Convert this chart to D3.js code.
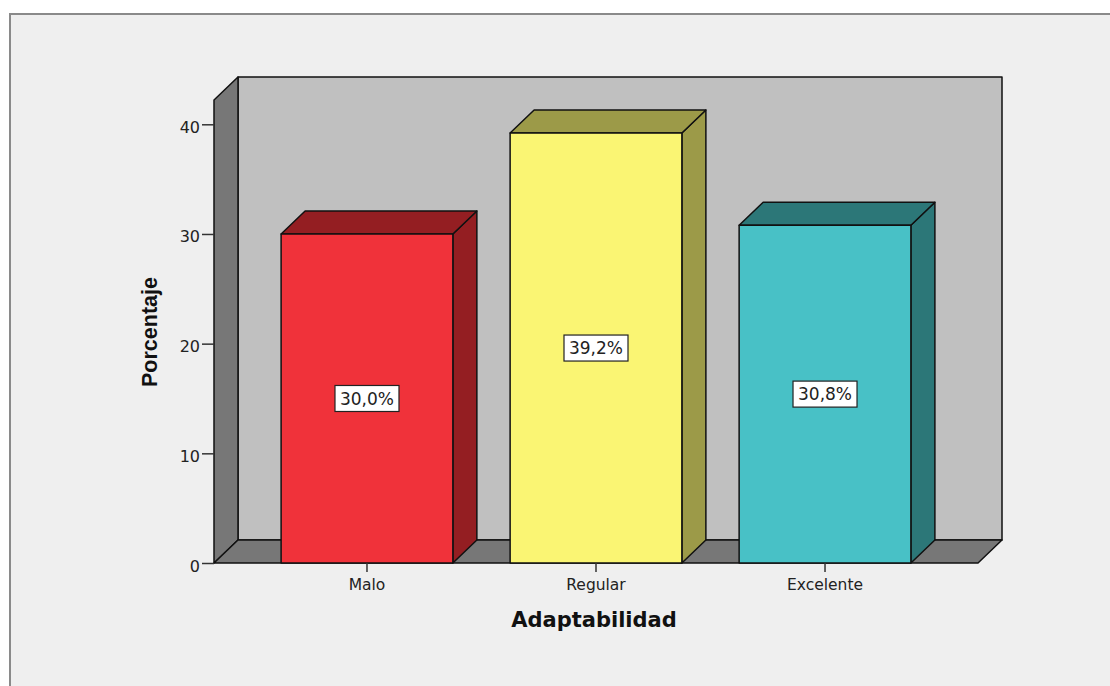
<!DOCTYPE html>
<html>
<head>
  <meta charset="utf-8">
  <title>Adaptabilidad</title>
  <script src="https://d3js.org/d3.v7.min.js"></script>
  <style>
    body { margin: 0; background: #fff; }
    .tick text { font-family: "DejaVu Sans", sans-serif; font-size: 16px; fill: #222; }
    .tick line { stroke: #333; stroke-width: 1.5; }
    .edge { stroke: #111; stroke-width: 1.5; stroke-linejoin: round; }
  </style>
</head>
<body>
  <script>
    // data
    var categories = ["Malo", "Regular", "Excelente"];
    var percents = [30.0, 39.2, 30.8];
    var labels = ["30,0%", "39,2%", "30,8%"];
    var frontColors = ["#f0323a", "#faf573", "#48c1c6"];
    var sideColors = ["#941e22", "#9c9a48", "#2c7778"];
    var yTicks = [0, 10, 20, 30, 40];

    var W = 1110, H = 686;
    // front plane of the 3d box and the depth offset
    var left = 214, right = 978, bottom = 563, wallTop = 100;
    var dx = 24, dy = 23;

    var svg = d3.select("body").append("svg")
        .attr("width", W)
        .attr("height", H);

    // outer frame
    svg.append("rect")
        .attr("x", 10).attr("y", 14)
        .attr("width", W + 20).attr("height", H + 20)
        .attr("fill", "#efefef")
        .attr("stroke", "#8a8a8a")
        .attr("stroke-width", 2);

    var y = d3.scaleLinear()
        .domain([0, 40])
        .range([bottom, 124.3]);

    var x = d3.scaleBand()
        .domain(categories)
        .range([left, right])
        .paddingInner(0.25)
        .paddingOuter(0.293);

    function poly(pts) {
      return "M" + pts.map(p => p.join(",")).join("L") + "Z";
    }

    // back wall
    svg.append("path").attr("class", "edge")
        .attr("d", poly([[left + dx, wallTop - dy], [right + dx, wallTop - dy], [right + dx, bottom - dy], [left + dx, bottom - dy]]))
        .attr("fill", "#c0c0c0");
    // left wall
    svg.append("path").attr("class", "edge")
        .attr("d", poly([[left, bottom], [left, wallTop], [left + dx, wallTop - dy], [left + dx, bottom - dy]]))
        .attr("fill", "#777");
    // floor
    svg.append("path").attr("class", "edge")
        .attr("d", poly([[left, bottom], [right, bottom], [right + dx, bottom - dy], [left + dx, bottom - dy]]))
        .attr("fill", "#777");

    // bars
    var data = categories.map((c, i) => ({cat: c, value: percents[i], label: labels[i], front: frontColors[i], side: sideColors[i]}));

    var bars = svg.append("g").selectAll("g")
        .data(data)
        .enter().append("g");

    bars.append("path").attr("class", "edge")
        .attr("fill", d => d.side)
        .attr("d", d => {
          var x0 = x(d.cat), x1 = x0 + x.bandwidth(), t = y(d.value);
          return poly([[x1, t], [x1 + dx, t - dy], [x1 + dx, bottom - dy], [x1, bottom]]);
        });
    bars.append("path").attr("class", "edge")
        .attr("fill", d => d.side)
        .attr("d", d => {
          var x0 = x(d.cat), x1 = x0 + x.bandwidth(), t = y(d.value);
          return poly([[x0, t], [x0 + dx, t - dy], [x1 + dx, t - dy], [x1, t]]);
        });
    bars.append("rect").attr("class", "edge")
        .attr("x", d => x(d.cat))
        .attr("y", d => y(d.value))
        .attr("width", x.bandwidth())
        .attr("height", d => bottom - y(d.value))
        .attr("fill", d => d.front);

    // value labels
    var bw = 64, bh = 26;
    bars.append("rect")
        .attr("x", d => x(d.cat) + x.bandwidth() / 2 - bw / 2)
        .attr("y", d => y(d.value / 2) - bh / 2)
        .attr("width", bw).attr("height", bh)
        .attr("fill", "#fff")
        .attr("stroke", "#222")
        .attr("stroke-width", 1.2);
    bars.append("text")
        .attr("x", d => x(d.cat) + x.bandwidth() / 2)
        .attr("y", d => y(d.value / 2))
        .attr("dy", "0.36em")
        .attr("text-anchor", "middle")
        .style("font-family", "DejaVu Sans, sans-serif")
        .style("font-size", "17px")
        .style("fill", "#222")
        .text(d => d.label);

    // axes
    var yAxis = svg.append("g")
        .attr("transform", "translate(" + left + ",0)")
        .call(d3.axisLeft(y).tickValues(yTicks).tickSize(12).tickPadding(2));
    yAxis.select(".domain").remove();
    yAxis.selectAll(".tick text").attr("dy", "0.5em");

    var xAxis = svg.append("g")
        .attr("transform", "translate(0," + bottom + ")")
        .call(d3.axisBottom(x).tickSize(9).tickPadding(5));
    xAxis.select(".domain").remove();
    xAxis.selectAll(".tick text").attr("dy", "0.85em").style("font-size", "15.5px");

    // titles
    svg.append("text")
        .attr("x", 594).attr("y", 627)
        .attr("text-anchor", "middle")
        .style("font-family", "DejaVu Sans, sans-serif")
        .style("font-weight", "bold")
        .style("font-size", "21px")
        .style("fill", "#111")
        .text("Adaptabilidad");

    svg.append("text")
        .attr("transform", "translate(157,332) rotate(-90)")
        .attr("text-anchor", "middle")
        .style("font-family", "Liberation Sans, Arial, sans-serif")
        .style("font-weight", "bold")
        .style("font-size", "21.5px")
        .style("fill", "#111")
        .text("Porcentaje");
  </script>
</body>
</html>
